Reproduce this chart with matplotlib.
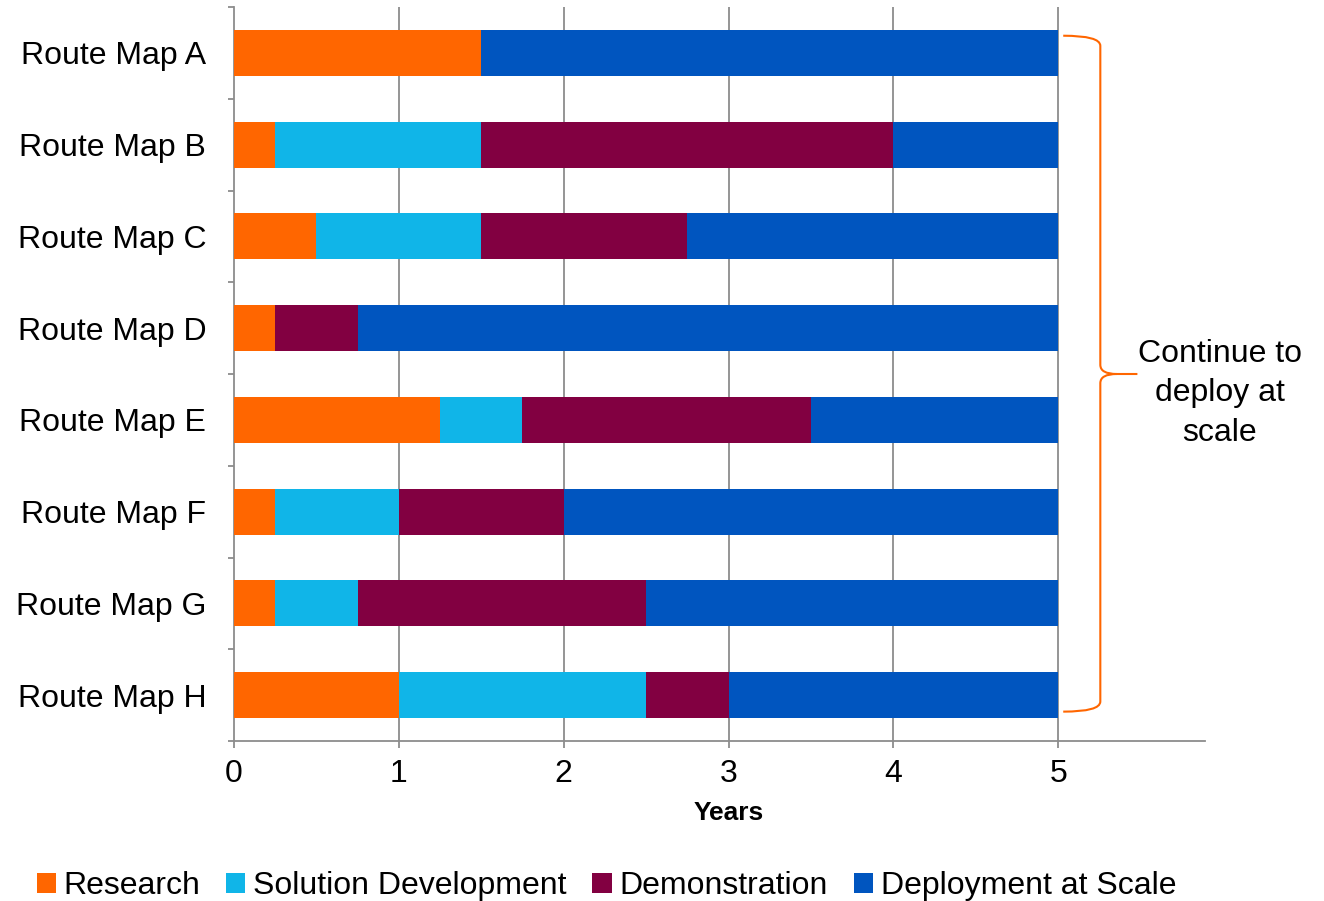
import matplotlib
matplotlib.use("Agg")
import matplotlib.pyplot as plt
from matplotlib.path import Path
from matplotlib.patches import PathPatch
import numpy as np

plt.rcParams['font.family'] = ['Liberation Sans', 'DejaVu Sans']

categories = ["Route Map A", "Route Map B", "Route Map C", "Route Map D",
              "Route Map E", "Route Map F", "Route Map G", "Route Map H"]
series_names = ["Research", "Solution Development", "Demonstration", "Deployment at Scale"]
research = [1.5, 0.25, 0.5, 0.25, 1.25, 0.25, 0.25, 1.0]
solution_dev = [0.0, 1.25, 1.0, 0.0, 0.5, 0.75, 0.5, 1.5]
demonstration = [0.0, 2.5, 1.25, 0.5, 1.75, 1.0, 1.75, 0.5]
deployment = [3.5, 1.0, 2.25, 4.25, 1.5, 3.0, 2.5, 2.0]
colors = ["#FF6600", "#10B5E8", "#820041", "#0055BF"]
x_ticks = [0, 1, 2, 3, 4, 5]
annotation_text = "Continue to\ndeploy at\nscale"

FS = 23

fig = plt.figure(figsize=(13.24, 9.01), dpi=100)
ax = fig.add_axes([234/1324, 1-741/901, (1205-234)/1324, (741-7)/901])

y = np.arange(len(categories))
left = np.zeros(len(categories))
for name, vals, c in zip(series_names, [research, solution_dev, demonstration, deployment], colors):
    ax.barh(y, vals, left=left, height=0.5, color=c, label=name, zorder=3)
    left += np.array(vals)

ax.set_xlim(0, 5.89)
ax.set_ylim(len(categories)-0.5, -0.5)
grey = "#8C8C8C"
for s in ["top", "right"]:
    ax.spines[s].set_visible(False)
for s in ["left", "bottom"]:
    ax.spines[s].set_color(grey)
    ax.spines[s].set_linewidth(1.3)
ax.set_xticks(x_ticks)
ax.set_xticklabels([str(t) for t in x_ticks], fontsize=FS)
ax.set_yticks(y)
ax.set_yticklabels(categories, fontsize=FS)
ax.set_yticks(np.arange(-0.5, len(categories)), minor=True)
ax.tick_params(axis='y', which='major', length=0, pad=20)
ax.tick_params(axis='y', which='minor', length=4, width=1.3, color=grey, direction='out')
ax.tick_params(axis='x', which='major', length=5, width=1.3, color=grey, direction='out', pad=8)
for t in x_ticks[1:]:
    ax.axvline(t, color=grey, lw=1.3, zorder=1)
ax.set_xlabel("Years", fontsize=19, fontweight='bold', labelpad=10)
ax.xaxis.set_label_coords((729-234)/971, -0.082)

# brace
n = len(categories)
yt, yb, ym = -0.5 + 0.313, n - 0.5 - 0.32, (n - 1) / 2
xa, xv, xt = 5.03, 5.255, 5.48
verts = [(xa, yt), (xv, yt), (xv, yt + 0.11), (xv, ym - 0.1),
         (xv, ym), (xv + 0.1, ym), (xt, ym),
         (xv + 0.1, ym), (xv, ym), (xv, ym + 0.1), (xv, yb - 0.11),
         (xv, yb), (xa, yb)]
codes = [Path.MOVETO, Path.CURVE3, Path.CURVE3, Path.LINETO,
         Path.CURVE3, Path.CURVE3, Path.LINETO,
         Path.MOVETO, Path.CURVE3, Path.CURVE3, Path.LINETO,
         Path.CURVE3, Path.CURVE3]
ax.add_patch(PathPatch(Path(verts, codes), fill=False, edgecolor="#FF6600", lw=1.5, clip_on=False, zorder=4))
ax.text(5.98, 3.71, annotation_text, ha='center', va='center', fontsize=FS,
        linespacing=1.42, clip_on=False)

handles, labels = ax.get_legend_handles_labels()
fig.legend(handles, labels, loc='center', bbox_to_anchor=(0.458, 0.0166), ncol=4,
           frameon=False, fontsize=FS, handlelength=0.6, handleheight=0.6,
           handletextpad=0.25, columnspacing=0.8, borderaxespad=0)

fig.savefig("out.png", dpi=100)
